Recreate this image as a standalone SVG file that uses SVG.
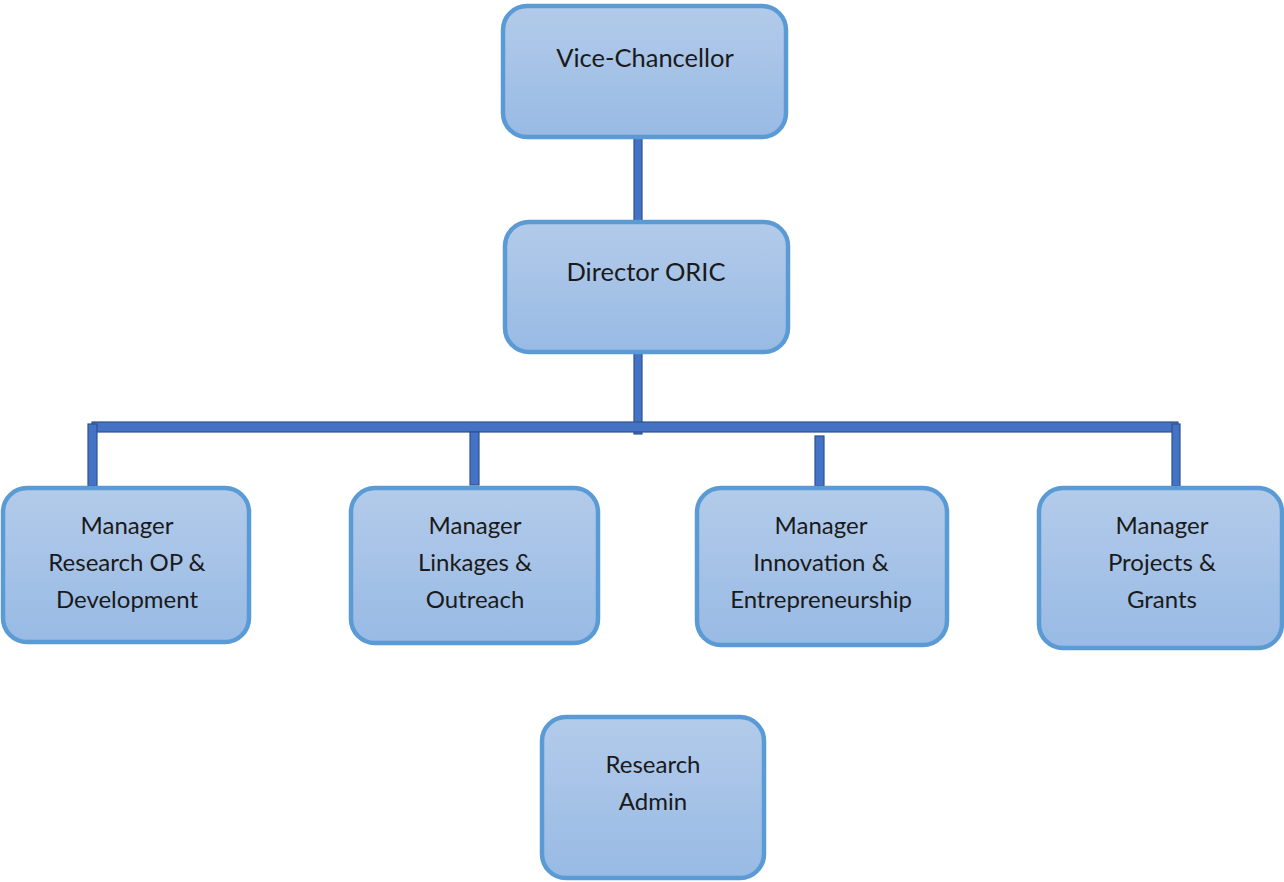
<svg xmlns="http://www.w3.org/2000/svg" width="1284" height="882" viewBox="0 0 1284 882">
<defs>
<linearGradient id="g" x1="0" y1="0" x2="0" y2="1">
<stop offset="0" stop-color="#b3cbea"/>
<stop offset="1" stop-color="#98bae4"/>
</linearGradient>
<style>
.box{fill:url(#g);stroke:#5b9bd5;stroke-width:4.5}
.bar{fill:#4472c4;stroke:#2f528f;stroke-width:1.2}
text{font-family:Lato,"Liberation Sans",sans-serif;font-size:24px;fill:#1a1a1a;text-anchor:middle}
.big{font-size:25.5px}
</style>
</defs>
<rect width="1284" height="882" fill="#ffffff"/>
<g id="connectors">
<rect class="bar" x="634" y="137" width="8" height="85"/>
<rect class="bar" x="634" y="352" width="8" height="82"/>
<rect class="bar" x="92" y="422" width="1086" height="10"/>
<rect class="bar" x="88" y="424" width="9" height="62"/>
<rect class="bar" x="470" y="432" width="9" height="53"/>
<rect class="bar" x="815" y="436" width="9" height="50"/>
<rect class="bar" x="1172" y="424" width="8" height="62"/>
</g>
<g id="vc">
<rect class="box" x="503" y="6" width="283" height="131" rx="24"/>
<text class="big" x="645" y="67">Vice-Chancellor</text>
</g>
<g id="director">
<rect class="box" x="505" y="222" width="283" height="130" rx="24"/>
<text class="big" x="646" y="281">Director ORIC</text>
</g>
<g id="m1">
<rect class="box" x="3" y="488" width="246" height="154" rx="24"/>
<text x="127" y="534">Manager</text>
<text x="127" y="571">Research OP &amp;</text>
<text x="127" y="608">Development</text>
</g>
<g id="m2">
<rect class="box" x="351" y="488" width="247" height="155" rx="24"/>
<text x="475" y="534">Manager</text>
<text x="475" y="571">Linkages &amp;</text>
<text x="475" y="608">Outreach</text>
</g>
<g id="m3">
<rect class="box" x="697" y="488" width="250" height="157" rx="24"/>
<text x="821" y="534">Manager</text>
<text x="821" y="571">Innovation &amp;</text>
<text x="821" y="608">Entrepreneurship</text>
</g>
<g id="m4">
<rect class="box" x="1039" y="488" width="243" height="160" rx="24"/>
<text x="1162" y="534">Manager</text>
<text x="1162" y="571">Projects &amp;</text>
<text x="1162" y="608">Grants</text>
</g>
<g id="admin">
<rect class="box" x="542" y="717" width="222" height="161" rx="24"/>
<text x="653" y="773">Research</text>
<text x="653" y="810">Admin</text>
</g>
</svg>
